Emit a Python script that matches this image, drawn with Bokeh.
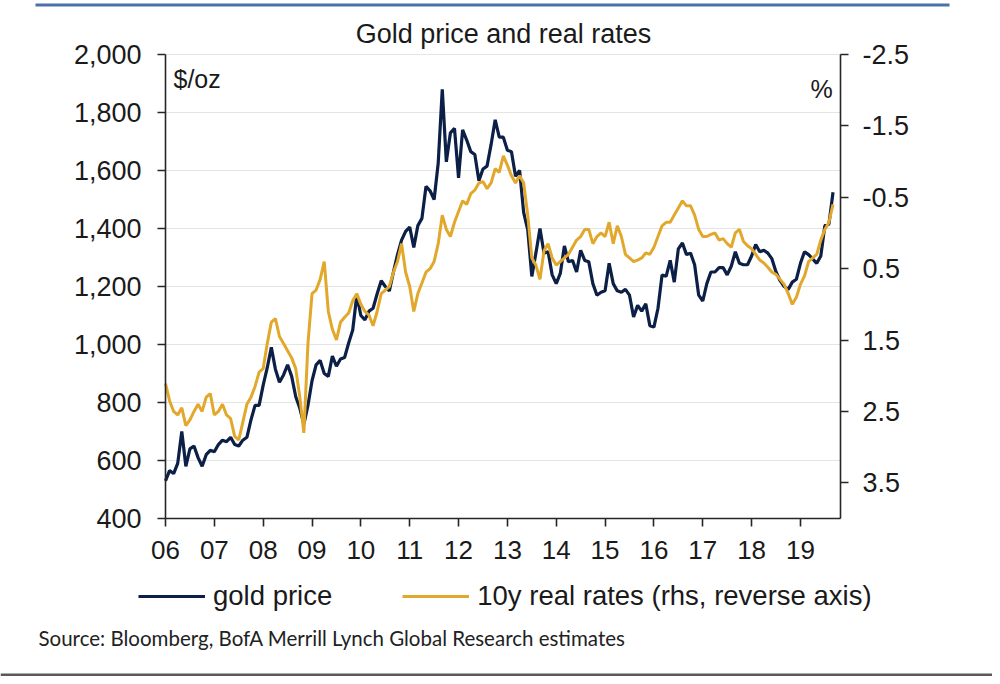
from bokeh.plotting import figure
from bokeh.models import (Range1d, LinearAxis, FixedTicker, Label, Legend, LegendItem,
                          BoxAnnotation)
from bokeh.embed import file_html
from bokeh.resources import INLINE

# ---------------- data (monthly, month starts from Jan 2006) ----------------
start_year = 2006
gold_price = [
    530, 565, 555, 590, 700, 580, 640, 650, 610, 580, 620, 635,      # 2006
    630, 655, 670, 665, 680, 655, 650, 670, 680, 740, 790, 790,      # 2007
    860, 920, 990, 915, 870, 895, 930, 890, 820, 780, 725, 790,      # 2008
    875, 930, 945, 900, 890, 960, 925, 950, 955, 1005, 1050, 1170,   # 2009
    1100, 1085, 1115, 1125, 1175, 1220, 1200, 1185, 1250, 1310, 1360, 1390,  # 2010
    1405, 1335, 1410, 1435, 1545, 1530, 1500, 1625, 1880, 1630, 1730, 1745,  # 2011
    1575, 1740, 1705, 1665, 1655, 1565, 1605, 1615, 1690, 1775, 1715, 1715,  # 2012
    1670, 1665, 1580, 1600, 1455, 1395, 1235, 1315, 1400, 1315, 1320, 1240,  # 2013
    1210, 1245, 1340, 1285, 1290, 1250, 1325, 1290, 1285, 1210, 1170, 1180,  # 2014
    1185, 1280, 1210, 1185, 1180, 1190, 1170, 1095, 1135, 1115, 1140, 1065,  # 2015
    1060, 1125, 1240, 1235, 1290, 1215, 1330, 1350, 1310, 1315, 1275, 1170,  # 2016
    1150, 1210, 1250, 1250, 1265, 1265, 1240, 1270, 1320, 1280, 1275, 1275,  # 2017
    1305, 1345, 1320, 1325, 1315, 1295, 1250, 1220, 1200, 1190, 1215, 1225,  # 2018
    1280, 1320, 1310, 1295, 1280, 1305, 1410, 1415, 1525,                    # 2019
]
real_rate = [
    2.11, 2.35, 2.50, 2.55, 2.45, 2.70, 2.62, 2.50, 2.40, 2.50, 2.30, 2.25,  # 2006
    2.55, 2.50, 2.40, 2.55, 2.60, 2.85, 2.90, 2.65, 2.40, 2.30, 2.15, 1.95,  # 2007
    1.90, 1.55, 1.25, 1.20, 1.45, 1.55, 1.65, 1.75, 1.90, 2.30, 2.80, 1.55,  # 2008
    0.85, 0.80, 0.65, 0.40, 1.10, 1.35, 1.50, 1.25, 1.18, 1.12, 0.95, 0.85,  # 2009
    1.00, 1.10, 1.15, 1.30, 1.10, 0.85, 0.80, 0.75, 0.55, 0.40, 0.15, 0.55,  # 2010
    0.75, 1.10, 0.85, 0.70, 0.55, 0.50, 0.40, 0.15, -0.25, -0.05, 0.05, -0.15,  # 2011
    -0.30, -0.45, -0.40, -0.55, -0.60, -0.70, -0.72, -0.62, -0.70, -0.90, -0.85, -1.08,  # 2012
    -0.95, -0.80, -0.70, -0.80, -0.70, -0.25, 0.35, 0.45, 0.65, 0.25, 0.15, 0.35,  # 2013
    0.45, 0.40, 0.35, 0.30, 0.20, 0.10, 0.05, -0.05, -0.05, 0.15, 0.05, 0.00,  # 2014
    0.05, -0.15, 0.15, -0.10, 0.05, 0.30, 0.35, 0.40, 0.38, 0.35, 0.28, 0.30,  # 2015
    0.20, 0.05, -0.10, -0.15, -0.15, -0.25, -0.35, -0.45, -0.38, -0.38, -0.25, -0.05,  # 2016
    0.05, 0.05, 0.02, 0.00, 0.10, 0.08, 0.15, 0.20, 0.00, -0.05, 0.12, 0.18,  # 2017
    0.22, 0.30, 0.38, 0.42, 0.48, 0.55, 0.58, 0.65, 0.72, 0.85, 1.00, 0.90,  # 2018
    0.72, 0.60, 0.40, 0.35, 0.30, 0.10, -0.05, -0.15, -0.40,                 # 2019
]
dates = [start_year + i / 12.0 for i in range(len(gold_price))]

year_ticks = list(range(2006, 2020))
year_labels = ["06", "07", "08", "09", "10", "11", "12", "13", "14", "15", "16", "17", "18", "19"]
gold_ticks = [400, 600, 800, 1000, 1200, 1400, 1600, 1800, 2000]
gold_tick_labels = ["400", "600", "800", "1,000", "1,200", "1,400", "1,600", "1,800", "2,000"]
rate_ticks = [-2.5, -1.5, -0.5, 0.5, 1.5, 2.5, 3.5]
rate_tick_labels = ["-2.5", "-1.5", "-0.5", "0.5", "1.5", "2.5", "3.5"]

title_text = "Gold price and real rates"
source_text = "Source:  Bloomberg, BofA Merrill Lynch Global Research estimates"
legend_labels = ["gold price", "10y real rates (rhs, reverse axis)"]

# axis domains
X0, X1 = 2006.0, 2019.82      # years
Y0, Y1 = 400, 2000            # $/oz
R_BOT, R_TOP = 4.0, -2.5      # %, reversed

# ---------------- styling / layout ----------------
NAVY = "#0c1f47"
GOLD = "#e2a82c"
AX = "#262626"
TXT = "#1a1a1a"
FONT = "Liberation Sans"

W, H = 992, 676
PL, PR, PT, PB = 165, 840, 54, 518        # plot-area edges in canvas px (from top-left)

# the frame covers the whole canvas; ranges are widened so the plot area lands on PL..PR, PT..PB
ppx = (PR - PL) / (X1 - X0)
ppy = (PB - PT) / (Y1 - Y0)
ppr = (PB - PT) / (R_BOT - R_TOP)
x_range = Range1d(X0 - PL / ppx, X1 + (W - PR) / ppx)
y_range = Range1d(Y0 - (H - PB) / ppy, Y1 + PT / ppy)
r_range = Range1d(start=R_BOT + (H - PB) / ppr, end=R_TOP - PT / ppr)

p = figure(width=W, height=H, output_backend="svg", toolbar_location=None,
           x_range=x_range, y_range=y_range,
           min_border_left=0, min_border_right=0, min_border_top=0, min_border_bottom=0)
p.extra_y_ranges = {"rr": r_range}
p.title.visible = False
p.outline_line_color = None
p.background_fill_color = "white"
p.border_fill_color = "white"
p.xgrid.visible = False
p.ygrid.visible = False

# horizontal grid lines at the left-axis ticks, across the plot area
p.segment(x0=[X0] * len(gold_ticks), x1=[X1] * len(gold_ticks), y0=gold_ticks, y1=gold_ticks,
          line_color="#e4e4e4", line_width=1)

# axes pinned to the plot-area edges
p.xaxis.ticker = FixedTicker(ticks=year_ticks)
p.xaxis.major_label_overrides = {t: l for t, l in zip(year_ticks, year_labels)}
p.xaxis.fixed_location = Y0
p.xaxis.bounds = (X0, X1)

p.yaxis.ticker = FixedTicker(ticks=gold_ticks)
p.yaxis.major_label_overrides = {t: l for t, l in zip(gold_ticks, gold_tick_labels)}
p.yaxis.fixed_location = X0
p.yaxis.bounds = (Y0, Y1)

rax = LinearAxis(y_range_name="rr", ticker=FixedTicker(ticks=rate_ticks),
                 fixed_location=X1, bounds=(R_TOP, R_BOT))
rax.major_label_overrides = {t: l for t, l in zip(rate_ticks, rate_tick_labels)}
p.add_layout(rax, "right")

for ax, size, standoff in [(p.xaxis[0], "26px", 14), (p.yaxis[0], "27px", 16), (rax, "27px", 14)]:
    ax.axis_line_color = AX
    ax.axis_line_width = 1.6
    ax.major_tick_line_color = AX
    ax.major_tick_line_width = 1.6
    ax.major_tick_out = 8
    ax.major_tick_in = 0
    ax.minor_tick_line_color = None
    ax.major_label_text_font = FONT
    ax.major_label_text_font_size = size
    ax.major_label_text_color = TXT
    ax.major_label_standoff = standoff

r_gold = p.line(dates, gold_price, line_color=NAVY, line_width=3.2)
r_rate = p.line(dates, real_rate, y_range_name="rr", line_color=GOLD, line_width=3)


def lab(text, x, y, size, align="left", font=FONT, color=TXT):
    # x, y in canvas px from top-left
    p.add_layout(Label(x=x, y=H - y, x_units="screen", y_units="screen", text=text,
                       text_font=font, text_font_size=size, text_color=color,
                       text_baseline="middle", text_align=align))


lab(title_text, 503, 33, "27px", "center")
lab("$/oz", 173, 78, "25px")
lab("%", 821, 88, "25px", "center")
lab(source_text, 38, 637, "20.5px", font="Lato", color="#222222")

legend = Legend(items=[LegendItem(label=legend_labels[0], renderers=[r_gold]),
                       LegendItem(label=legend_labels[1], renderers=[r_rate])],
                location=(138, H - 612), orientation="horizontal",
                glyph_width=67, glyph_height=26, label_standoff=8, spacing=70,
                padding=0, margin=0, border_line_color=None,
                background_fill_alpha=0,
                label_text_font=FONT, label_text_font_size="27.5px",
                label_text_color=TXT, label_height=26)
p.add_layout(legend)

# decorative rules at the top and bottom of the page
p.add_layout(BoxAnnotation(left=35, right=949, top=H - 3, bottom=H - 6,
                           left_units="screen", right_units="screen",
                           top_units="screen", bottom_units="screen",
                           fill_color="#4c70aa", fill_alpha=1, line_color=None))
p.add_layout(BoxAnnotation(left=0, right=W, top=3, bottom=0,
                           left_units="screen", right_units="screen",
                           top_units="screen", bottom_units="screen",
                           fill_color="#595959", fill_alpha=1, line_color=None))

open("out.html", "w").write(file_html(p, INLINE))
